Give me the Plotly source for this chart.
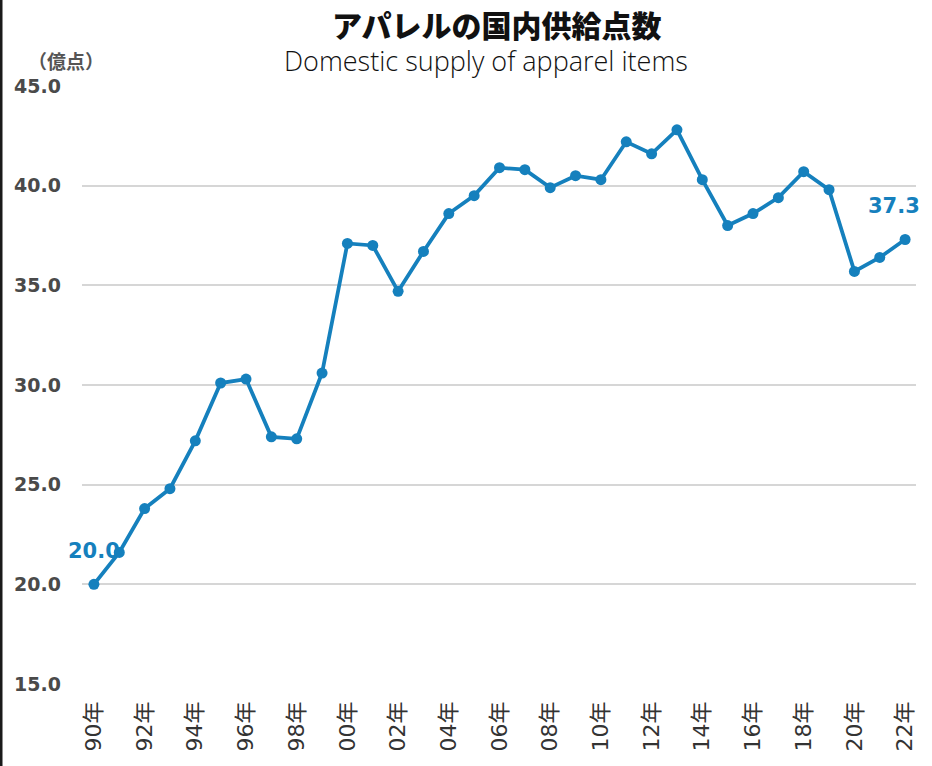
import plotly.graph_objects as go

# ---- data ----
years = list(range(1990, 2023))
supply_values = [
    20.0, 21.6, 23.8, 24.8, 27.2, 30.1, 30.3, 27.4, 27.3, 30.6,
    37.1, 37.0, 34.7, 36.7, 38.6, 39.5, 40.9, 40.8, 39.9, 40.5,
    40.3, 42.2, 41.6, 42.8, 40.3, 38.0, 38.6, 39.4, 40.7, 39.8,
    35.7, 36.4, 37.3,
]
tick_years = list(range(1990, 2023, 2))
tick_labels = [f"{y % 100:02d}年" for y in tick_years]
y_ticks = [15.0, 20.0, 25.0, 30.0, 35.0, 40.0, 45.0]
title_jp = "アパレルの国内供給点数"
title_en = "Domestic supply of apparel items"
unit_label = "（億点）"
labelled_points = [(1990, 20.0, 0, 33), (2022, 37.3, -11, 33)]

LINE = "#1580bd"

fig = go.Figure()
fig.add_trace(go.Scatter(
    x=years, y=supply_values, mode="lines+markers",
    line=dict(color=LINE, width=3.8),
    marker=dict(color=LINE, size=11),
    showlegend=False, hoverinfo="x+y",
))

for (xx, yy, dx, dy) in labelled_points:
    fig.add_annotation(
        x=xx, y=yy, xref="x", yref="y", text=f"{yy:.1f}", showarrow=False,
        xshift=dx, yshift=dy,
        font=dict(family="DejaVu Sans", size=21, color=LINE, weight="bold"),
    )

# titles (positions given in pixels, converted below)
fig.add_annotation(
    x=496, y=24, text=title_jp, showarrow=False,
    font=dict(family="Noto Sans CJK JP", size=30, color="#111111", weight=900),
)
fig.add_annotation(
    x=486, y=61, text=title_en, showarrow=False,
    font=dict(family="Open Sans", size=27, color="#111111", weight=300),
)
fig.add_annotation(
    x=66, y=61, text=unit_label, showarrow=False,
    font=dict(family="Noto Sans CJK JP", size=19, color="#555555", weight="bold"),
)

L, R, T, B = 82, 16, 86, 82
W, H = 932, 766
pw, ph = W - L - R, H - T - B
for ann in fig.layout.annotations[-3:]:
    px, py = ann.x, ann.y
    ann.xref = "paper"
    ann.yref = "paper"
    ann.x = (px - L) / pw
    ann.y = (H - B - py) / ph
    ann.xanchor = "center"
    ann.yanchor = "middle"

# dark left border strip (as in reference image)
fig.add_shape(
    type="line", xref="paper", yref="paper",
    x0=(1 - L) / pw, x1=(1 - L) / pw,
    y0=(H - B) / ph, y1=(H - B - H) / ph,
    line=dict(color="#1a1a1a", width=3), layer="above",
)

fig.update_layout(
    width=W, height=H,
    margin=dict(l=L, r=R, t=T, b=B, autoexpand=False),
    paper_bgcolor="white", plot_bgcolor="white",
    xaxis=dict(
        range=[1989.53, 2022.43],
        tickvals=tick_years, ticktext=tick_labels, tickangle=-90,
        showgrid=False, zeroline=False, showline=False, ticks="",
        tickfont=dict(family="DejaVu Sans, Noto Sans CJK JP", size=22, color="#333333"),
        ticklabelstandoff=12,
        automargin=False,
    ),
    yaxis=dict(
        range=[15, 45], tickvals=y_ticks, tickformat=".1f",
        showgrid=True, gridcolor="#d6d6d6", gridwidth=2,
        zeroline=False, showline=False, ticks="",
        tickfont=dict(family="DejaVu Sans", size=19, color="#4a4a4a", weight="bold"),
        ticklabelstandoff=20,
        automargin=False,
    ),
)

fig.write_html(
    "out.html",
    config={"displayModeBar": False},
    post_script="document.body.style.margin='0';document.body.style.overflow='hidden';",
)
